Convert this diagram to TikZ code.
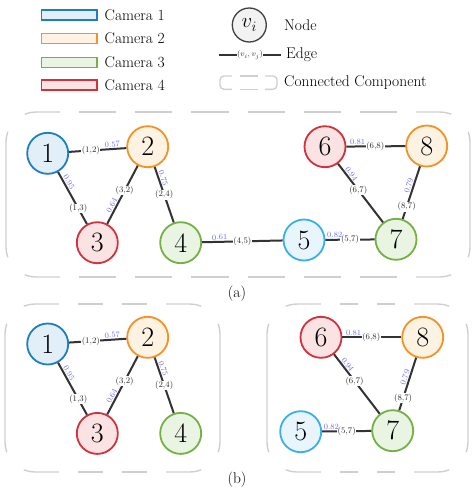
\documentclass[tikz,border=0pt]{standalone}
\usetikzlibrary{positioning}

\definecolor{camAline}{HTML}{1F7EC0}
\definecolor{camAfill}{HTML}{E2EFF9}
\definecolor{camAltline}{HTML}{3AB0E6}
\definecolor{camAltfill}{HTML}{E9F5FC}
\definecolor{camBline}{HTML}{F39325}
\definecolor{camBfill}{HTML}{FEF3E3}
\definecolor{camCline}{HTML}{73B145}
\definecolor{camCfill}{HTML}{EAF4E2}
\definecolor{camDline}{HTML}{D0323E}
\definecolor{camDfill}{HTML}{FBE3E3}
\definecolor{edgegray}{HTML}{333333}
\definecolor{wblue}{HTML}{6A6AFF}
\definecolor{compgray}{HTML}{CFCFCF}

\tikzset{
  vtx/.style={circle, draw, line width=1.8pt, minimum size=41pt, inner sep=0pt, font=\fontsize{28}{28}\selectfont},
  camA/.style={vtx, draw=camAline, fill=camAfill},
  camAlt/.style={vtx, draw=camAltline, fill=camAltfill},
  camB/.style={vtx, draw=camBline, fill=camBfill},
  camC/.style={vtx, draw=camCline, fill=camCfill},
  camD/.style={vtx, draw=camDline, fill=camDfill},
  edge/.style={draw=edgegray, line width=2pt},
  pair/.style={fill=white, inner sep=0.6pt, text=black!85, font=\fontsize{8.5}{8.5}\selectfont},
  wgt/.style={sloped, above, inner sep=0.8pt, text=wblue, font=\fontsize{8}{8}\selectfont},
  comp/.style={draw=compgray, line width=1.4pt},
  swatch/.style={rectangle, line width=1.5pt, minimum width=55.5pt, minimum height=10pt, inner sep=0pt},
  legtext/.style={inner sep=2pt, font=\fontsize{15.5}{15.5}\selectfont},
}

% dashed component frame: x0, y0, x1, y1, dashes per side
\newcommand{\compbox}[5]{%
  \pgfmathsetmacro{\cbd}{(#3-#1-146-(#5-1)*19)/#5}%
  \draw[comp] (#1+54,#2) -- (#1+30,#2) arc[start angle=-90, end angle=-112, radius=30];
  \draw[comp] (#3-54,#2) -- (#3-30,#2) arc[start angle=-90, end angle=-68, radius=30];
  \draw[comp] (#1+54,#4) -- (#1+30,#4) arc[start angle=90, end angle=112, radius=30];
  \draw[comp] (#3-54,#4) -- (#3-30,#4) arc[start angle=90, end angle=68, radius=30];
  \draw[comp] (#1+1.81,#4-19.74) arc[start angle=160, end angle=180, radius=30] -- (#1,#2+30) arc[start angle=180, end angle=200, radius=30];
  \draw[comp] (#3-1.81,#4-19.74) arc[start angle=20, end angle=0, radius=30] -- (#3,#2+30) arc[start angle=0, end angle=-20, radius=30];
  \draw[comp, dash pattern=on \cbd pt off 19pt] (#1+73,#2) -- (#3-73,#2);
  \draw[comp, dash pattern=on \cbd pt off 19pt] (#1+73,#4) -- (#3-73,#4);
}

\begin{document}
\begin{tikzpicture}[x=1pt, y=-1pt]
\useasboundingbox (0,0) rectangle (476,491);

% Legend: cameras
\node[swatch, draw=camAline, fill=camAfill] (keyA) at (69,15) {};
\node[swatch, draw=camBline, fill=camBfill] (keyB) at (69,38.3) {};
\node[swatch, draw=camCline, fill=camCfill] (keyC) at (69,62.5) {};
\node[swatch, draw=camDline, fill=camDfill] (keyD) at (69,85) {};
\node[legtext, right=5pt of keyA] (keyAtext) {Camera 1};
\node[legtext, right=5pt of keyB] (keyBtext) {Camera 2};
\node[legtext, right=5pt of keyC] (keyCtext) {Camera 3};
\node[legtext, right=5pt of keyD] (keyDtext) {Camera 4};

% Legend: node, edge, component
\node[vtx, draw=black!75, fill=black!5, line width=1.3pt, minimum size=34pt, font=\fontsize{20}{20}\selectfont] (keyV) at (249.3,25) {$v_i$};
\node[legtext, anchor=west] (keyVtext) at (282,25) {Node};
\coordinate (keyL) at (219,55);
\coordinate (keyR) at (281,55);
\draw[edge] (keyL) -- node[pair] {$(v_i,v_j)$} (keyR);
\node[legtext, anchor=west] (keyEtext) at (284,55) {Edge};
\draw[comp, rounded corners=4pt] (232,76) -- (220,76) -- (220,89.3) -- (232,89.3);
\draw[comp, rounded corners=4pt] (265,76) -- (277,76) -- (277,89.3) -- (265,89.3);
\draw[comp] (240,76) -- (258,76);
\draw[comp] (240,89.3) -- (258,89.3);
\node[legtext, anchor=west] (keyCtext) at (282,82.5) {Connected Component};

% (a) one component
\compbox{6}{112}{470}{277}{6}
\node[camA] (a1) at (47.7,153.3) {1};
\node[camB] (a2) at (147.7,146.7) {2};
\node[camD] (a3) at (97.3,242.7) {3};
\node[camC] (a4) at (180.7,242.7) {4};
\node[camAlt] (a5) at (304,240) {5};
\node[camD] (a6) at (325,146.7) {6};
\node[camC] (a7) at (396,239.3) {7};
\node[camB] (a8) at (426.7,146) {8};
\draw[edge] (a1) -- node[pair, pos=0.38] {(1,2)} node[wgt, pos=0.76] {0.57} (a2);
\draw[edge] (a1) -- node[pair, pos=0.70] {(1,3)} node[wgt, pos=0.24] {0.95} (a3);
\draw[edge] (a3) -- node[pair, pos=0.57] {(3,2)} node[wgt, pos=0.28] {0.64} (a2);
\draw[edge] (a2) -- node[pair, pos=0.50] {(2,4)} node[wgt, pos=0.23] {0.75} (a4);
\draw[edge] (a4) -- node[pair, pos=0.50] {(4,5)} node[wgt, pos=0.22] {0.61} (a5);
\draw[edge] (a5) -- node[pair, pos=0.50] {(5,7)} node[wgt, pos=0.19] {0.82} (a7);
\draw[edge] (a6) -- node[pair, pos=0.49] {(6,8)} node[wgt, pos=0.19] {0.81} (a8);
\draw[edge] (a6) -- node[pair, pos=0.45] {(6,7)} node[wgt, pos=0.22] {0.94} (a7);
\draw[edge] (a8) -- node[pair, pos=0.77] {(8,7)} node[wgt, pos=0.40] {0.79} (a7);
\node[legtext] (capA) at (237,294) {(a)};

% (b) two components
\compbox{5}{304}{220}{472}{2}
\compbox{267}{304}{468}{472}{2}
\node[camA] (b1) at (47.7,344) {1};
\node[camB] (b2) at (147.7,337.3) {2};
\node[camD] (b3) at (97.3,433.4) {3};
\node[camC] (b4) at (180.7,433.4) {4};
\node[camAlt] (b5) at (300.7,431.7) {5};
\node[camD] (b6) at (321,337.3) {6};
\node[camC] (b7) at (392.7,430.7) {7};
\node[camB] (b8) at (422.7,337.3) {8};
\draw[edge] (b1) -- node[pair, pos=0.38] {(1,2)} node[wgt, pos=0.76] {0.57} (b2);
\draw[edge] (b1) -- node[pair, pos=0.70] {(1,3)} node[wgt, pos=0.24] {0.95} (b3);
\draw[edge] (b3) -- node[pair, pos=0.57] {(3,2)} node[wgt, pos=0.28] {0.64} (b2);
\draw[edge] (b2) -- node[pair, pos=0.50] {(2,4)} node[wgt, pos=0.23] {0.75} (b4);
\draw[edge] (b5) -- node[pair, pos=0.50] {(5,7)} node[wgt, pos=0.19] {0.82} (b7);
\draw[edge] (b6) -- node[pair, pos=0.49] {(6,8)} node[wgt, pos=0.19] {0.81} (b8);
\draw[edge] (b6) -- node[pair, pos=0.45] {(6,7)} node[wgt, pos=0.22] {0.94} (b7);
\draw[edge] (b8) -- node[pair, pos=0.77] {(8,7)} node[wgt, pos=0.40] {0.79} (b7);
\node[legtext] (capB) at (237,480) {(b)};
\end{tikzpicture}
\end{document}
